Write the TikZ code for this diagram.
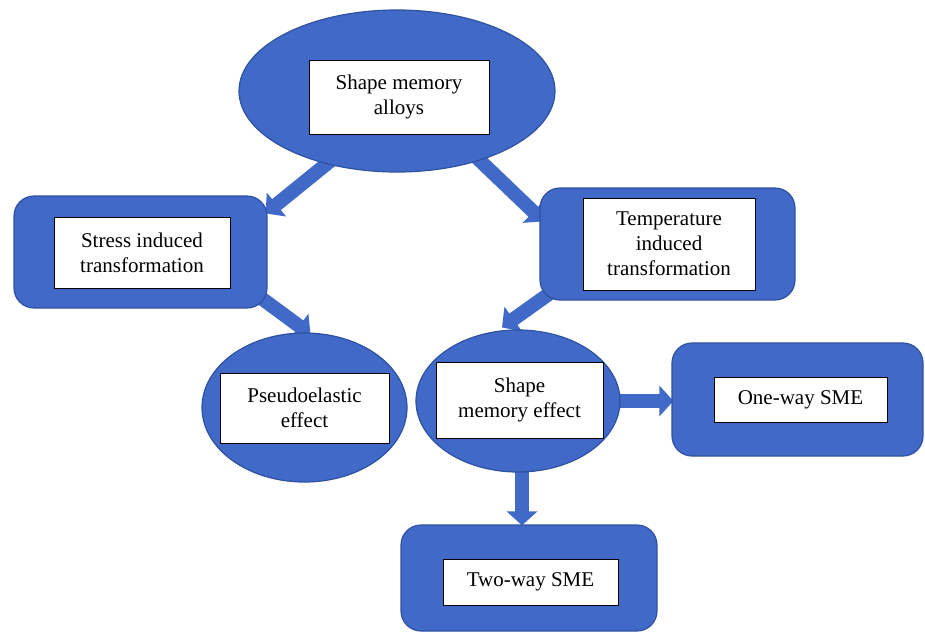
\documentclass[tikz,border=0pt]{standalone}
\usepackage{fontspec}
\setmainfont{Liberation Serif}
\usetikzlibrary{arrows.meta,calc,shapes.geometric,backgrounds}
\definecolor{smablue}{RGB}{65,105,200}
\definecolor{smaedge}{RGB}{47,82,160}
\begin{document}
\begin{tikzpicture}[x=1pt,y=-1pt,
  outerbox/.style={draw=smaedge, line width=1.2pt, fill=smablue, rounded corners=20pt, inner sep=0pt},
  outerell/.style={ellipse, draw=smaedge, line width=1.2pt, fill=smablue, inner sep=0pt},
  txtbox/.style={draw=black, line width=1pt, fill=white, align=center, font=\fontsize{21}{25}\selectfont, inner sep=0pt},
  blockarrow/.style={smablue, line width=14pt, -{Triangle[length=14pt,width=30pt]}}]
\useasboundingbox (0,0) rectangle (925,632);
\node[outerell, minimum width=316pt, minimum height=162pt] (top) at (397,91) {};
\node[txtbox, minimum width=180pt, minimum height=74pt] (topl) at (399,97) {Shape memory\\alloys};
\node[outerbox, minimum width=253pt, minimum height=112pt] (stress) at (140.5,252) {};
\node[txtbox, minimum width=176pt, minimum height=71pt] (stressl) at (142,252.5) {Stress induced\\transformation};
\node[outerbox, minimum width=255pt, minimum height=112pt] (temp) at (667.5,244) {};
\node[txtbox, minimum width=172pt, minimum height=92pt] (templ) at (669,244) {Temperature\\induced\\transformation};
\node[outerell, minimum width=205pt, minimum height=149pt] (pseudo) at (304.5,407.5) {};
\node[txtbox, minimum width=169pt, minimum height=70pt] (pseudol) at (304.5,408) {Pseudoelastic\\effect};
\node[outerell, minimum width=204pt, minimum height=142pt] (sme) at (518,401) {};
\node[txtbox, minimum width=167pt, minimum height=76pt] (smel) at (519.5,400) {Shape\\memory effect};
\node[outerbox, minimum width=251pt, minimum height=113pt] (one) at (797.5,399.5) {};
\node[txtbox, minimum width=173pt, minimum height=45pt] (onel) at (800.5,399.5) {One-way SME};
\node[outerbox, minimum width=256pt, minimum height=106pt] (two) at (529,578) {};
\node[txtbox, minimum width=175pt, minimum height=46pt] (twol) at (530.5,582) {Two-way SME};
\coordinate (smeb) at ($(sme.south)+(4,-4)$);
\begin{scope}[on background layer]
\draw[blockarrow, shorten <=-8pt] (top.226) -- ($(stress.north east)+(-2,18)$);
\draw[blockarrow, shorten <=-8pt] (top.320) -- ($(temp.north west)+(4,34)$);
\draw[blockarrow] ($(stress.south east)+(-7,-11)$) -- ($(pseudo.north)+(6,2)$);
\draw[blockarrow] ($(temp.south west)+(10,-7)$) -- ($(sme.north)+(-16,-2)$);
\draw[blockarrow] ($(sme.east)+(-4,0)$) -- ($(sme.east -| one.west)+(2,0)$);
\draw[blockarrow] (smeb) -- ($(smeb |- two.north)+(0,1)$);
\end{scope}
\end{tikzpicture}
\end{document}
